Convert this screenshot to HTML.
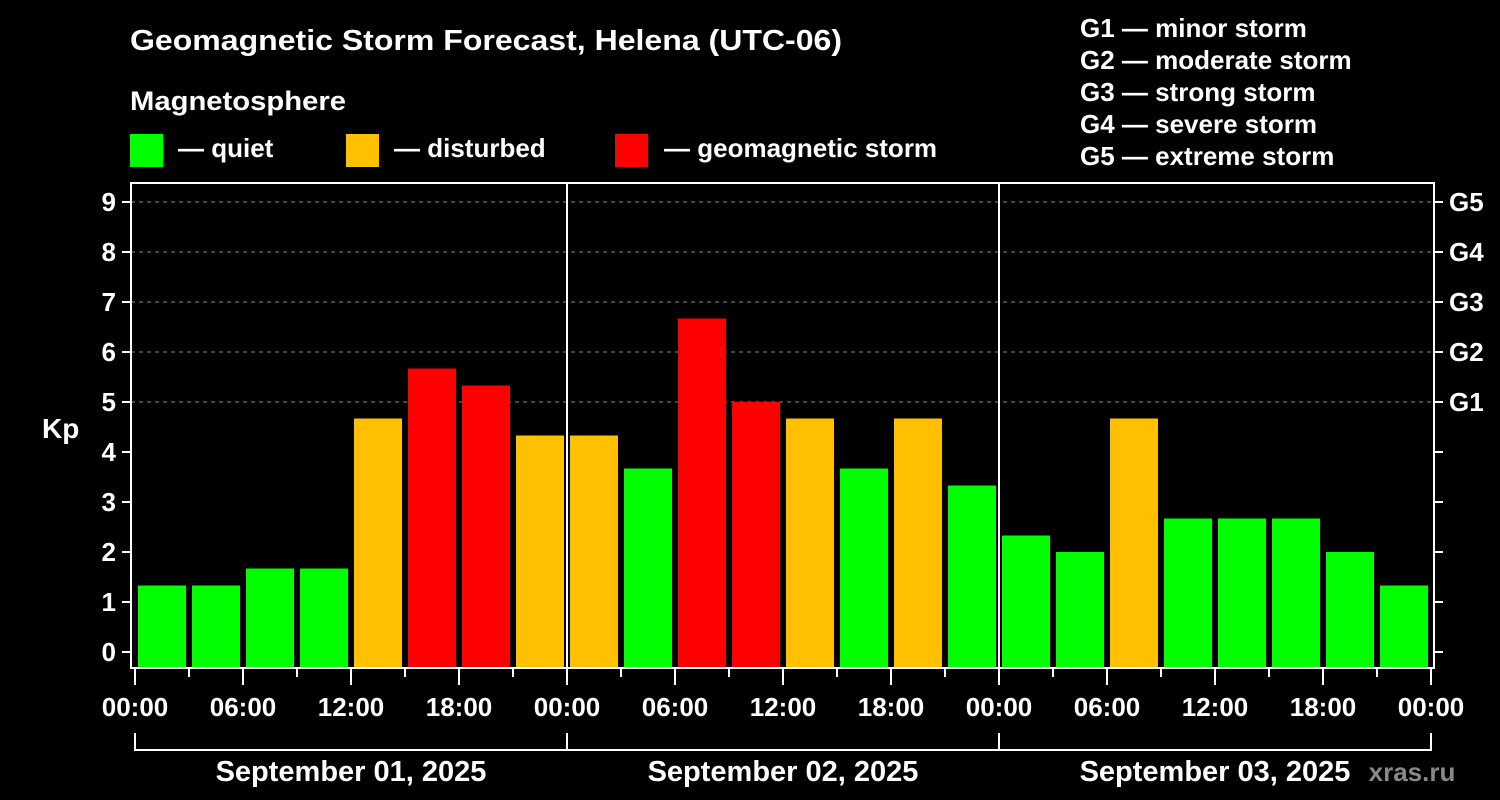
<!DOCTYPE html>
<html><head><meta charset="utf-8"><style>
html,body{margin:0;padding:0;background:#000;}
svg{display:block;font-family:"Liberation Sans",sans-serif;font-weight:bold;}
</style></head><body>
<svg id="chart" width="1500" height="800" viewBox="0 0 1500 800" xmlns="http://www.w3.org/2000/svg">
<rect width="1500" height="800" fill="#000"/>
<text x="130" y="50" fill="#fff" font-size="29" textLength="712" lengthAdjust="spacingAndGlyphs">Geomagnetic Storm Forecast, Helena (UTC-06)</text>
<text x="130" y="110" fill="#fff" font-size="27" textLength="216" lengthAdjust="spacingAndGlyphs">Magnetosphere</text>
<g><rect x="130" y="134" width="33" height="33" fill="#00ff00"/><text x="178" y="157" fill="#fff" font-size="26">— quiet</text></g>
<g><rect x="346" y="134" width="33" height="33" fill="#ffc000"/><text x="394" y="157" fill="#fff" font-size="26">— disturbed</text></g>
<g><rect x="615" y="134" width="33" height="33" fill="#ff0000"/><text x="664" y="157" fill="#fff" font-size="26">— geomagnetic storm</text></g>
<g fill="#fff" font-size="26">
<text x="1080" y="37">G1 — minor storm</text><text x="1080" y="69">G2 — moderate storm</text><text x="1080" y="101">G3 — strong storm</text><text x="1080" y="133">G4 — severe storm</text><text x="1080" y="165">G5 — extreme storm</text>
</g>
<text x="42" y="438" fill="#fff" font-size="28">Kp</text>
<g id="grid"></g><g id="bars"></g><g id="axes"></g>
<text x="1412" y="781" fill="#888" font-size="26" text-anchor="middle">xras.ru</text>
</svg>
<script>
const kpValues=[1.33,1.33,1.67,1.67,4.67,5.67,5.33,4.33, 4.33,3.67,6.67,5,4.67,3.67,4.67,3.33, 2.33,2,4.67,2.67,2.67,2.67,2,1.33];
const dayLabels=["September 01, 2025","September 02, 2025","September 03, 2025"];
const hourLabels=["00:00","06:00","12:00","18:00"];
const yTicks=[0,1,2,3,4,5,6,7,8,9];
const gLabels=[[5,"G1"],[6,"G2"],[7,"G3"],[8,"G4"],[9,"G5"]];
const NS="http://www.w3.org/2000/svg";
const x0=135,slot=54,frameL=131,frameR=1434,plotTop=183,plotBottom=668;
const yScale=k=>652-50*k;
const xs=i=>x0+slot*i;
function mk(tag,attrs,parent,text){const e=document.createElementNS(NS,tag);for(const k in attrs)e.setAttribute(k,attrs[k]);if(text!==undefined)e.textContent=text;parent.appendChild(e);return e;}
const grid=document.getElementById('grid'),bars=document.getElementById('bars'),axes=document.getElementById('axes');
yTicks.forEach(k=>{if(k>=5){const l=mk('line',{x1:frameL,x2:frameR,y1:yScale(k),y2:yScale(k),stroke:'#888','stroke-width':1,'stroke-dasharray':'4,4'},grid);

}});
kpValues.forEach((v,i)=>{const c=v>=5?'#ff0000':(v>=4?'#ffc000':'#00ff00');
const r=mk('rect',{x:xs(i)+3,y:yScale(v),width:48,height:plotBottom-yScale(v),fill:c},bars);

});
mk('rect',{x:frameL,y:plotTop,width:frameR-frameL,height:plotBottom-plotTop,fill:'none',stroke:'#fff','stroke-width':2},axes);
[1,2].forEach(d=>{const l=mk('line',{x1:xs(d*8),x2:xs(d*8),y1:plotTop,y2:plotBottom,stroke:'#fff','stroke-width':2},axes);

});
yTicks.forEach(k=>{mk('line',{x1:122,x2:frameL,y1:yScale(k),y2:yScale(k),stroke:'#fff','stroke-width':2},axes);
mk('line',{x1:frameR,x2:frameR+9,y1:yScale(k),y2:yScale(k),stroke:'#fff','stroke-width':2},axes);
const t=mk('text',{x:116,y:yScale(k)+9,fill:'#fff','font-size':26,'text-anchor':'end'},axes,String(k));

});
gLabels.forEach(g=>{const t=mk('text',{x:1449,y:yScale(g[0])+9,fill:'#fff','font-size':26},axes,g[1]);

});
for(let i=0;i<=24;i++){const major=i%2===0;mk('line',{x1:xs(i),x2:xs(i),y1:plotBottom,y2:plotBottom+(major?17:9),stroke:'#fff','stroke-width':2},axes);
if(major){const t=mk('text',{x:xs(i),y:716,fill:'#fff','font-size':26,'text-anchor':'middle'},axes,hourLabels[(i/2)%4]);

}}
dayLabels.forEach((d,j)=>{const a=xs(j*8),b=xs(j*8+8);
mk('path',{d:`M${a} 733 V750 H${b} V733`,fill:'none',stroke:'#fff','stroke-width':2},axes);
const t=mk('text',{x:(a+b)/2,y:781,fill:'#fff','font-size':29,'text-anchor':'middle'},axes,d);

});
</script>
</body></html>
